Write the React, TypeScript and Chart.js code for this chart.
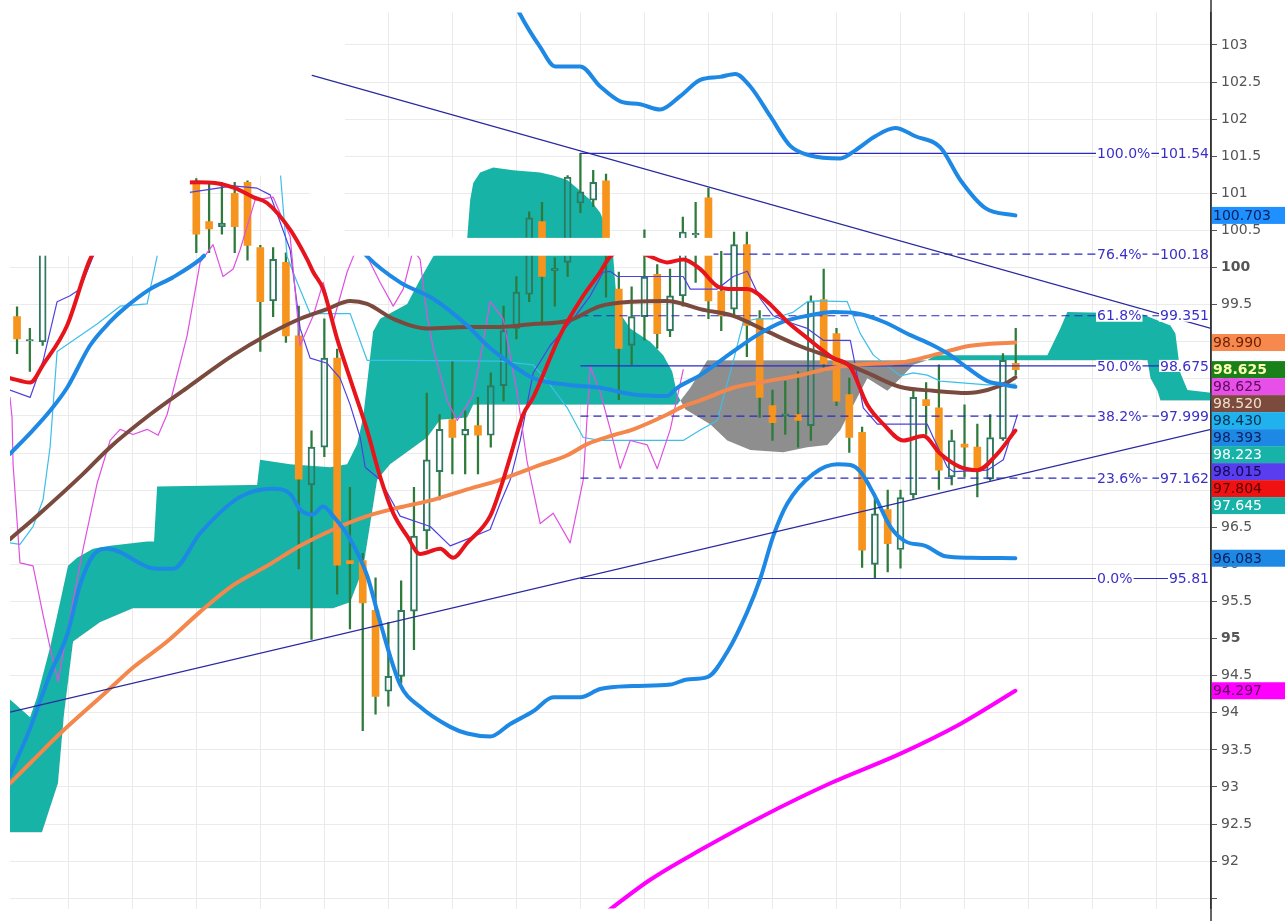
import React, { useEffect, useRef } from "react";
import { Chart, registerables } from "chart.js";

Chart.register(...registerables);

// ---------- candles (bar index 0..78) ----------
const candleOpen = [
  99.34, 99.01, 99.0, 100.2, 100.9, 101.3, 101.1, 101.5, 101.2, 101.4,
  101.0, 101.3, 101.1, 101.25, 101.15, 100.62, 100.55, 101.0, 101.15, 100.27,
  99.55, 100.07, 99.08, 97.07, 97.58, 98.78, 96.05, 96.05, 95.38, 94.29,
  94.49, 95.37, 96.45, 97.25, 97.95, 97.74, 97.87, 97.74, 98.41, 99.18,
  99.64, 100.62, 99.96, 100.07, 100.87, 100.91, 101.17, 99.71, 98.95, 99.34,
  99.91, 99.15, 99.62, 100.44, 100.94, 99.68, 99.44, 100.31, 99.31, 98.14,
  98.0, 98.02, 97.87, 99.57, 99.11, 98.29, 97.78, 96.0, 96.74, 96.2,
  96.94, 98.22, 98.11, 97.18, 97.62, 97.58, 97.15, 97.69, 98.71,
];
const candleHigh = [
  99.47, 99.18, 100.6, 101.1, 101.5, 101.6, 101.7, 101.7, 101.6, 101.5,
  101.5, 101.45, 101.4, 101.35, 101.2, 101.15, 101.15, 101.15, 101.17, 100.3,
  100.27, 100.2, 99.48, 97.8, 99.31, 98.9, 97.04, 96.15, 95.82, 95.22,
  95.78, 97.04, 98.31, 98.02, 98.74, 98.07, 98.25, 98.58, 99.48, 99.88,
  100.75, 100.88, 100.13, 101.24, 101.54, 101.31, 101.26, 99.94, 99.74, 100.51,
  100.04, 99.98, 100.68, 100.88, 101.07, 100.22, 100.48, 100.48, 99.42, 98.35,
  98.47, 98.6, 99.62, 99.98, 99.18, 98.51, 97.85, 96.95, 97.0, 97.0,
  98.34, 98.45, 98.69, 97.81, 98.15, 97.89, 98.02, 98.84, 99.18,
];
const candleLow = [
  98.84, 98.6, 98.95, 100.2, 100.7, 100.9, 100.95, 101.0, 100.9, 100.8,
  100.8, 100.9, 100.9, 100.85, 100.2, 100.2, 100.45, 100.2, 100.1, 98.87,
  99.34, 98.99, 95.94, 94.99, 97.45, 95.6, 95.13, 93.76, 93.98, 94.09,
  94.4, 94.85, 96.21, 96.87, 97.22, 97.22, 97.22, 97.58, 98.2, 99.04,
  99.54, 99.24, 99.48, 99.88, 100.74, 100.82, 99.6, 98.22, 98.69, 99.02,
  98.91, 99.07, 99.48, 99.8, 99.31, 99.15, 99.35, 98.8, 97.98, 97.67,
  97.75, 97.58, 97.67, 98.6, 98.14, 97.51, 95.96, 95.81, 95.9, 95.95,
  96.89, 97.75, 97.01, 97.07, 97.18, 96.91, 97.13, 97.67, 98.55,
];
const candleClose = [
  99.04, 99.03, 100.3, 100.9, 101.3, 101.1, 101.5, 101.2, 101.4, 101.0,
  101.3, 101.1, 101.25, 101.15, 100.45, 100.52, 100.6, 100.55, 100.3, 99.54,
  100.11, 99.08, 97.15, 97.58, 98.78, 95.99, 96.01, 95.48, 94.22, 94.49,
  95.38, 96.38, 97.41, 97.82, 97.71, 97.82, 97.74, 98.41, 99.15, 99.67,
  100.67, 99.88, 99.99, 101.22, 101.02, 101.15, 100.4, 98.91, 99.34, 99.87,
  99.11, 99.62, 100.48, 100.46, 99.55, 99.35, 100.31, 99.22, 98.25, 97.91,
  98.03, 97.94, 99.55, 98.7, 98.2, 97.71, 96.19, 96.68, 96.28, 96.9,
  98.25, 98.14, 97.27, 97.67, 97.58, 97.27, 97.71, 98.75, 98.625,
];

// ---------- indicator lines: [bar index, value]; null = not visible ----------
type Pt = [number, number | null];
const bbUpper: Pt[] = [
  [38.5, 103.71], [39.3, 103.41], [40.86, 102.97], [42.03, 102.71], [43.98, 102.71],
  [45.55, 102.44], [47.11, 102.24], [48.67, 102.2], [50.23, 102.13], [51.8, 102.31],
  [53.36, 102.53], [54.92, 102.57], [56.09, 102.61], [57.27, 102.44], [58.83, 102.04],
  [60.39, 101.64], [61.95, 101.51], [64.3, 101.47], [65.47, 101.58], [67.03, 101.77],
  [68.59, 101.88], [70.16, 101.77], [72.11, 101.62], [73.67, 101.18], [75.63, 100.8],
  [77.97, 100.703],
];
const bbMiddle: Pt[] = [
  [-0.55, 97.49], [1.25, 97.81], [2.58, 98.07], [3.91, 98.38], [5.7, 98.95],
  [7.27, 99.27], [8.59, 99.48], [10.39, 99.71], [12.19, 99.87], [14.3, 100.11],
  [14.6, 100.16], [20.0, null],
  [27.1, 100.2], [27.34, 100.15], [29.92, 99.8], [32.5, 99.58], [35.16, 99.22], [36.72, 98.95],
  [38.28, 98.74], [40.31, 98.51], [42.97, 98.42], [45.55, 98.38], [48.13, 98.29],
  [50.78, 98.27], [51.56, 98.38], [53.36, 98.55], [55.94, 98.87], [57.81, 99.09],
  [59.84, 99.27], [61.72, 99.35], [63.75, 99.4], [65.63, 99.38], [67.66, 99.27],
  [69.77, 99.09], [71.56, 98.95], [72.89, 98.82], [74.22, 98.65], [75.78, 98.47],
  [76.8, 98.43], [77.97, 98.393],
];
const bbLower: Pt[] = [
  [-0.55, 93.16], [1.02, 93.79], [2.58, 94.52], [3.91, 95.05], [4.92, 95.72],
  [5.94, 96.12], [7.03, 96.21], [10.94, 95.94], [12.19, 95.94], [14.3, 96.42],
  [17.42, 96.91], [20.0, 97.02], [21.33, 96.95], [22.11, 96.74], [23.05, 96.67],
  [23.91, 96.78], [24.69, 96.65], [26.02, 96.34], [27.34, 95.85], [28.36, 95.22],
  [29.92, 94.38], [31.48, 94.08], [33.83, 93.81], [35.16, 93.72], [36.95, 93.68],
  [38.52, 93.85], [40.31, 94.02], [41.88, 94.21], [43.98, 94.21], [45.55, 94.32],
  [48.13, 94.36], [51.02, 94.38], [52.34, 94.45], [53.91, 94.48], [55.47, 94.82],
  [57.03, 95.36], [58.05, 95.81], [59.06, 96.38], [60.16, 96.82], [62.19, 97.22],
  [64.06, 97.35], [65.08, 97.34], [65.86, 97.25], [67.03, 96.91], [68.2, 96.51],
  [69.38, 96.31], [70.94, 96.25], [72.5, 96.11], [74.45, 96.09], [77.97, 96.083],
];
const emaRed: Pt[] = [
  [-0.55, 98.51], [1.02, 98.45], [2.03, 98.69], [3.91, 99.22], [5.7, 100.11],
  [8.83, 100.91], [11.17, 101.11], [14.06, 101.15], [15.47, 101.14], [17.03, 101.07],
  [18.44, 100.95], [19.53, 100.87], [21.33, 100.51], [22.66, 100.11], [23.13, 99.94],
  [23.91, 99.71], [25.0, 99.04], [26.25, 98.38], [27.34, 97.81], [28.36, 97.18],
  [29.38, 96.69], [30.47, 96.38], [31.48, 96.14], [33.05, 96.21], [34.06, 96.09],
  [35.16, 96.29], [36.95, 96.65], [37.73, 97.01], [38.52, 97.45], [39.53, 98.02],
  [40.31, 98.25], [42.42, 99.09], [44.22, 99.62], [45.55, 99.94], [46.33, 100.15],
  [47.9, 100.25], [49.45, 100.15], [50.78, 100.07], [52.03, 100.11], [53.36, 99.98],
  [54.69, 99.75], [55.94, 99.71], [57.03, 99.71], [58.59, 99.54], [60.16, 99.27],
  [61.72, 99.05], [63.75, 98.78], [65.08, 98.66], [66.41, 98.15], [67.66, 97.89],
  [69.22, 97.67], [70.78, 97.73], [72.11, 97.49], [73.67, 97.31], [75.0, 97.27],
  [76.56, 97.49], [77.97, 97.804],
];
const maBrown: Pt[] = [
  [-0.55, 96.34], [1.8, 96.69], [5.16, 97.22], [7.27, 97.58], [10.39, 98.02],
  [13.28, 98.38], [16.88, 98.82], [19.53, 99.09], [22.11, 99.31], [24.22, 99.44],
  [26.02, 99.55], [27.34, 99.51], [29.38, 99.31], [32.03, 99.18], [35.16, 99.2],
  [37.73, 99.2], [40.31, 99.24], [42.97, 99.28], [45.55, 99.48], [48.13, 99.54],
  [50.78, 99.55], [52.03, 99.51], [53.36, 99.44], [55.94, 99.35], [58.59, 99.14],
  [61.17, 98.94], [63.75, 98.78], [66.41, 98.58], [69.0, 98.39], [71.56, 98.34],
  [74.22, 98.31], [75.78, 98.35], [77.34, 98.45], [77.97, 98.52],
];
const maOrange: Pt[] = [
  [-0.55, 93.05], [1.25, 93.36], [3.36, 93.72], [7.03, 94.29], [9.06, 94.61],
  [11.72, 94.96], [14.3, 95.36], [16.88, 95.72], [19.53, 95.98], [22.11, 96.25],
  [24.69, 96.47], [27.34, 96.65], [29.92, 96.77], [32.5, 96.87], [35.16, 97.01],
  [37.73, 97.14], [40.86, 97.34], [42.97, 97.47], [44.53, 97.62], [46.56, 97.74],
  [48.13, 97.82], [50.78, 98.02], [52.03, 98.13], [53.36, 98.21], [55.94, 98.38],
  [58.59, 98.47], [61.17, 98.55], [63.75, 98.65], [66.41, 98.7], [69.0, 98.72],
  [71.56, 98.82], [74.22, 98.94], [75.78, 98.97], [77.97, 98.99],
];
const maMagenta: Pt[] = [
  [45.55, 91.25], [49.45, 91.75], [53.36, 92.15], [58.05, 92.59], [63.52, 93.05],
  [69.0, 93.45], [73.67, 93.85], [77.97, 94.297],
];
const tenkan: Pt[] = [
  [-0.55, 98.35], [1.02, 98.25], [2.03, 98.74], [3.13, 99.54], [4.14, 99.62],
  [4.92, 99.71], [6.48, 100.38], [9.0, 100.9], [16.88, 101.1], [18.75, 101.07],
  [19.77, 100.98], [21.33, 100.24], [22.11, 99.18], [22.89, 98.78], [24.22, 98.71],
  [25.23, 98.51], [26.02, 98.15], [26.8, 97.71], [27.19, 97.31], [28.36, 97.14],
  [29.38, 96.82], [29.92, 96.65], [32.27, 96.51], [33.83, 96.25], [35.16, 96.34],
  [36.95, 96.47], [37.73, 96.82], [38.52, 97.14], [39.3, 97.67], [40.31, 98.58],
  [41.64, 98.95], [43.44, 99.31], [44.77, 99.62], [45.78, 99.94], [46.33, 99.95],
  [46.88, 99.88], [48.67, 99.88], [52.03, 99.88], [52.58, 99.71], [54.69, 99.71],
  [55.94, 99.88], [57.03, 99.95], [58.05, 99.58], [59.06, 99.35], [60.16, 99.27],
  [61.72, 99.18], [62.97, 99.02], [65.08, 99.02], [65.31, 98.82], [66.09, 98.11],
  [67.19, 97.89], [71.09, 97.89], [71.56, 97.71], [72.66, 97.31], [73.13, 97.25],
  [75.78, 97.27], [77.03, 97.41], [77.58, 97.71], [78.13, 98.015],
];
const kijun: Pt[] = [
  [-0.55, 96.29], [0.23, 96.27], [1.25, 96.51], [2.03, 96.87], [2.58, 97.58],
  [3.13, 98.87], [6.25, 99.24], [8.05, 99.48], [10.16, 99.51], [10.94, 100.15],
  [11.17, 101.31], [20.55, 101.31], [21.09, 100.15], [21.88, 99.8], [22.89, 99.38],
  [26.02, 99.38], [27.34, 98.75], [29.92, 98.75], [37.73, 98.74], [40.31, 98.69],
  [41.41, 98.47], [42.97, 98.11], [44.22, 97.71], [45.55, 97.67], [52.03, 97.67],
  [53.36, 97.81], [54.69, 97.94], [55.94, 98.74], [56.72, 99.27], [57.81, 99.31],
  [59.06, 99.31], [60.63, 99.4], [61.72, 99.54], [62.5, 99.55], [64.84, 99.54],
  [65.86, 99.11], [66.88, 98.82], [69.0, 98.54], [70.0, 98.58], [71.09, 98.55],
  [72.11, 98.47], [75.78, 98.42], [77.97, 98.43],
];
const chikou: Pt[] = [
  [-0.55, 98.25], [-0.39, 97.98], [-0.31, 97.35], [0.23, 96.02], [1.25, 95.98],
  [2.03, 95.32], [2.58, 94.88], [3.2, 94.42], [3.91, 95.09], [5.16, 96.21],
  [6.25, 97.09], [7.27, 97.67], [8.05, 97.82], [9.06, 97.75], [10.16, 97.82],
  [11.02, 97.74], [11.72, 98.02], [13.28, 99.08], [14.3, 100.07], [15.31, 100.31],
  [16.09, 99.88], [16.88, 99.98], [17.42, 100.24], [18.59, 100.91], [20.0, 100.95],
  [21.33, 100.42], [22.11, 98.95], [23.13, 99.35], [23.91, 99.8], [24.69, 99.27],
  [25.78, 99.94], [26.8, 100.38], [27.34, 100.15], [28.36, 99.8], [29.38, 99.48],
  [30.16, 99.71], [30.94, 100.24], [31.48, 100.11], [32.03, 99.35], [32.5, 98.91],
  [33.59, 98.21], [34.38, 97.94], [35.16, 98.15], [35.63, 98.29], [36.41, 99.0],
  [36.95, 99.54], [37.97, 99.31], [39.06, 98.31], [39.84, 97.38], [40.86, 96.55],
  [41.88, 96.69], [43.2, 96.29], [44.22, 97.14], [44.77, 98.67], [45.55, 98.32],
  [46.33, 97.82], [47.11, 97.29], [47.89, 97.67], [49.22, 97.61], [50.0, 97.29],
  [51.02, 97.82], [51.56, 98.25], [52.03, 98.625],
];
const senkouA: Pt[] = [
  [-0.55, 94.18], [1.02, 93.94], [1.56, 94.21], [2.58, 94.88], [3.36, 95.49],
  [3.98, 95.98], [4.69, 96.09], [5.94, 96.21], [7.27, 96.25], [10.16, 96.31],
  [10.7, 96.31], [10.94, 97.05], [18.2, 97.07], [18.75, 97.07], [18.98, 97.41],
  [21.33, 97.35], [24.45, 97.31], [25.78, 97.35], [26.56, 97.62], [27.03, 97.98],
  [27.81, 99.14], [28.36, 99.31], [30.47, 99.51], [31.48, 99.84], [32.5, 100.15],
  [33.83, 100.31], [35.16, 100.4], [35.39, 100.91], [35.63, 101.14], [36.17, 101.28],
  [37.19, 101.35], [38.75, 101.31], [40.86, 101.28], [41.88, 101.24], [42.97, 101.18],
  [43.75, 101.07], [44.77, 100.91], [45.55, 100.74], [46.09, 100.51], [46.56, 100.15],
  [46.88, 99.44], [47.89, 99.18], [49.45, 99.0], [50.47, 98.82], [51.17, 98.6],
  [51.56, 98.29], [52.19, 98.09], [54.14, 97.89], [55.47, 97.67], [57.27, 97.54],
  [59.84, 97.51], [61.72, 97.58], [63.28, 97.61], [64.3, 97.81], [65.08, 98.07],
  [66.41, 98.51], [67.97, 98.34], [69.0, 98.51], [70.0, 98.69], [71.09, 98.75],
  [71.72, 98.82], [80.47, 98.82], [81.48, 99.18], [82.03, 99.4], [87.73, 99.38],
  [90.08, 99.22], [90.47, 99.11], [90.86, 98.58], [91.41, 98.35], [93.36, 98.31],
];
const senkouB: Pt[] = [
  [-0.55, 92.39], [1.95, 92.39], [3.2, 93.05], [3.67, 93.98], [4.38, 94.96],
  [6.48, 95.22], [9.06, 95.41], [24.69, 95.41], [26.02, 95.49], [27.03, 95.94],
  [28.13, 97.14], [29.14, 97.35], [32.03, 97.71], [33.05, 97.95], [35.16, 97.98],
  [35.63, 98.15], [51.56, 98.15], [52.58, 98.38], [53.91, 98.75], [88.28, 98.75],
  [88.52, 98.51], [89.06, 98.34], [89.3, 98.21], [93.36, 98.21],
];
const trendUpper: Pt[] = [[23.05, 102.59], [93.25, 99.18]];
const trendLower: Pt[] = [[-0.55, 94.01], [93.25, 97.82]];

// ---------- Fibonacci ----------
const fibStartIndex = 44;
const fibValues = [101.54, 100.18, 99.351, 98.675, 97.999, 97.162, 95.81];
const fibPercents = ["100.0%", "76.4%", "61.8%", "50.0%", "38.2%", "23.6%", "0.0%"];
const fibValueLabels = ["101.54", "100.18", "99.351", "98.675", "97.999", "97.162", "95.81"];

// ---------- right side value tags ----------
const tagValues = [100.703, 98.99, 98.625, 98.625, 98.52, 98.43, 98.393, 98.223, 98.015, 97.804, 97.645, 96.083, 94.297];
const tagLabels = ["100.703", "98.990", "98.625", "98.625", "98.520", "98.430", "98.393", "98.223", "98.015", "97.804", "97.645", "96.083", "94.297"];

// ---------- axes ----------
const yTickValues = [91.5, 92, 92.5, 93, 93.5, 94, 94.5, 95, 95.5, 96, 96.5, 97, 97.5, 98, 98.5, 99, 99.5, 100, 100.5, 101, 101.5, 102, 102.5, 103];
const xGridIndices = [4, 9, 14, 19, 24, 29, 34, 39, 44, 49, 54, 59, 64, 69, 74, 79, 84, 89];
const X_MIN = -0.55;
const X_MAX = 93.25;
const Y_MIN = 91.361;
const Y_MAX = 103.439;

// erased (white) areas of the source picture, in data units [x0, x1, yLow, yHigh]
const whiteAreas: [number, number, number, number][] = [
  [-1, 13.5, 100.16, 104],
  [13.5, 25.6, 101.24, 104],
  [22.9, 25.6, 100.16, 104],
  [25.6, 54.4, 100.16, 100.4],
];

// ---------- styles ----------
const FONT = '"DejaVu Sans", Verdana, sans-serif';
const TEAL = "#17b3a7";
const GRAY = "#8e8e8e";
const ORANGE_CANDLE = "#f7941d";
const HOLLOW = "#2f7a5f";
const WICK = "#2e7a3a";
const FIB_COLOR = "#2a2ac4";
const FIB_TEXT = "#3a30c8";
const tagBg = ["#1e90ff", "#f7894e", "#1a801a", "#e84ee8", "#7d4b3e", "#1fb2ee", "#1e88e5", "#18b3a8", "#5b3df0", "#f01212", "#18b3a8", "#1e88e5", "#ff00ff"];
const tagFg = ["#0b2160", "#6b1f00", "#ffffb0", "#5a0a5a", "#f0e0d0", "#0a2f4f", "#0b2160", "#ffffff", "#120a50", "#5a0000", "#ffffff", "#0b2160", "#5a005a"];

const pts = (arr: Pt[]) => arr.map(([x, y]) => ({ x, y }));

function lineDs(label: string, arr: Pt[], color: string, width: number, order: number, smooth: boolean, extra: any = {}) {
  return {
    type: "line",
    label,
    data: pts(arr),
    borderColor: color,
    borderWidth: width,
    pointRadius: 0,
    fill: false,
    order,
    spanGaps: false,
    cubicInterpolationMode: smooth ? "monotone" : "default",
    tension: 0,
    borderCapStyle: "round",
    borderJoinStyle: "round",
    ...extra,
  };
}

function drawWhiteAreas(chart: any) {
  const { ctx, chartArea, scales } = chart;
  const xs = scales.x;
  const ys = scales.y;
  ctx.save();
  ctx.beginPath();
  ctx.rect(chartArea.left, chartArea.top, chartArea.right - chartArea.left, chartArea.bottom - chartArea.top);
  ctx.clip();
  ctx.fillStyle = "#ffffff";
  whiteAreas.forEach(([x0, x1, y0, y1]) => {
    const px0 = xs.getPixelForValue(x0);
    const px1 = xs.getPixelForValue(x1);
    const py0 = ys.getPixelForValue(y1);
    const py1 = ys.getPixelForValue(y0);
    ctx.fillRect(px0, py0, px1 - px0, py1 - py0);
  });
  ctx.restore();
}

const overlayPlugin = {
  id: "overlays",
  beforeDatasetDraw(chart: any, args: any) {
    if (args.meta && args.meta.label === "Trend upper") drawWhiteAreas(chart);
  },
  afterDatasetsDraw(chart: any) {
    const { ctx, chartArea, scales } = chart;
    const ys = scales.y;
    ctx.save();
    ctx.font = `14px ${FONT}`;
    ctx.textBaseline = "middle";
    fibValues.forEach((v, i) => {
      const y = ys.getPixelForValue(v);
      const pctX = chartArea.right - 114;
      const pw = ctx.measureText(fibPercents[i]).width;
      const vw = ctx.measureText(fibValueLabels[i]).width;
      const vx = chartArea.right - 2 - vw;
      ctx.fillStyle = "#ffffff";
      ctx.fillRect(pctX - 1, y - 6, pw + 2, 12);
      ctx.fillRect(vx - 1, y - 6, vw + 2, 12);
      ctx.fillStyle = FIB_TEXT;
      ctx.textAlign = "left";
      ctx.fillText(fibPercents[i], pctX, y + 1);
      ctx.fillText(fibValueLabels[i], vx, y + 1);
    });
    ctx.restore();
  },
  afterDraw(chart: any) {
    const { ctx, chartArea, scales, width, height } = chart;
    const ys = scales.y;
    // axis line over the full height of the picture
    ctx.save();
    ctx.strokeStyle = "#333";
    ctx.lineWidth = 1.5;
    ctx.beginPath();
    ctx.moveTo(chartArea.right, 0);
    ctx.lineTo(chartArea.right, height);
    ctx.stroke();
    ctx.restore();

    const h = 17;
    let prevBottom = -Infinity;
    ctx.save();
    ctx.textBaseline = "middle";
    ctx.textAlign = "left";
    tagValues.forEach((v, i) => {
      let cy = ys.getPixelForValue(v);
      if (cy - h / 2 < prevBottom) cy = prevBottom + h / 2;
      prevBottom = cy + h / 2;
      ctx.fillStyle = tagBg[i];
      ctx.fillRect(chartArea.right + 1, cy - h / 2, width - chartArea.right - 1, h);
      ctx.fillStyle = tagFg[i];
      ctx.font = `${i === 2 ? "bold " : ""}14px ${FONT}`;
      ctx.fillText(tagLabels[i], chartArea.right + 2, cy + 1);
    });
    ctx.restore();
  },
};

export default function App() {
  const canvasRef = useRef<HTMLCanvasElement>(null);

  useEffect(() => {
    document.body.style.margin = "0";
    const canvas = canvasRef.current;
    if (!canvas) return;

    const idx = candleOpen.map((_, i) => i);
    const bull = (i: number) => candleClose[i] >= candleOpen[i];

    const datasets: any[] = [
      {
        type: "line",
        label: "Senkou A",
        data: pts(senkouA),
        borderWidth: 0,
        borderColor: "rgba(0,0,0,0)",
        pointRadius: 0,
        tension: 0,
        fill: { target: 1, above: TEAL, below: GRAY },
        order: 100,
      },
      {
        type: "line",
        label: "Senkou B",
        data: pts(senkouB),
        borderWidth: 0,
        borderColor: "rgba(0,0,0,0)",
        pointRadius: 0,
        tension: 0,
        fill: false,
        order: 101,
      },
      {
        type: "bar",
        label: "upper wick",
        data: idx.map((i) => ({ x: i, y: [Math.max(candleOpen[i], candleClose[i]), candleHigh[i]] })),
        backgroundColor: WICK,
        borderWidth: 0,
        barThickness: 1.6,
        grouped: false,
        order: 91,
      },
      {
        type: "bar",
        label: "lower wick",
        data: idx.map((i) => ({ x: i, y: [candleLow[i], Math.min(candleOpen[i], candleClose[i])] })),
        backgroundColor: WICK,
        borderWidth: 0,
        barThickness: 1.6,
        grouped: false,
        order: 90,
      },
      {
        type: "bar",
        label: "body",
        data: idx.map((i) => ({ x: i, y: [candleOpen[i], candleClose[i]] })),
        backgroundColor: idx.map((i) => (bull(i) ? "rgba(0,0,0,0)" : ORANGE_CANDLE)),
        borderColor: idx.map((i) => (bull(i) ? HOLLOW : ORANGE_CANDLE)),
        borderWidth: idx.map((i) => (bull(i) ? 1.3 : 0)),
        borderSkipped: false,
        barThickness: 7,
        grouped: false,
        order: 89,
      },
      lineDs("Kijun", kijun, "#3cbfe8", 1.2, 80, false),
      lineDs("Tenkan", tenkan, "#5040e0", 1.2, 79, false),
      lineDs("Chikou", chikou, "#e050e0", 1.2, 78, false),
      ...fibValues.map((v, i) =>
        lineDs("fib" + i, [[fibStartIndex, v], [X_MAX, v]], FIB_COLOR, 1.2, 70, false, {
          borderDash: i === 0 || i === 3 || i === 6 ? [] : [8, 5],
          borderCapStyle: "butt",
        })
      ),
      lineDs("MA orange", maOrange, "#f4874b", 4, 60, true),
      lineDs("MA brown", maBrown, "#7b4a3e", 4, 59, true),
      lineDs("BB upper", bbUpper, "#1e88e5", 4, 58, true),
      lineDs("BB middle", bbMiddle, "#1e88e5", 4, 58, true),
      lineDs("BB lower", bbLower, "#1e88e5", 4, 58, true),
      lineDs("EMA red", emaRed, "#e8141c", 4, 50, true),
      lineDs("MA magenta", maMagenta, "#ff00ff", 4, 49, true),
      lineDs("Trend upper", trendUpper, "#2a2aa0", 1.2, 2, false),
      lineDs("Trend lower", trendLower, "#2a2aa0", 1.2, 1, false),
    ];

    const chart = new Chart(canvas, {
      type: "line",
      data: { datasets },
      options: {
        animation: false,
        responsive: false,
        events: [],
        layout: { padding: { left: 10, top: 10, right: 0, bottom: 4 } },
        plugins: { legend: { display: false }, tooltip: { enabled: false } },
        scales: {
          x: {
            type: "linear",
            min: X_MIN,
            max: X_MAX,
            offset: false,
            grid: { color: "#ebebeb", drawTicks: false, offset: false },
            border: { display: false },
            ticks: { display: false },
            afterBuildTicks: (s: any) => {
              s.ticks = xGridIndices.map((v) => ({ value: v }));
            },
            afterFit: (s: any) => {
              s.height = 0;
            },
          },
          y: {
            type: "linear",
            position: "right",
            min: Y_MIN,
            max: Y_MAX,
            beginAtZero: false,
            grid: { color: "#ebebeb", tickLength: 6, tickColor: "#555" },
            border: { color: "#333", width: 1.5 },
            ticks: {
              padding: 4,
              color: "#555",
              font: (c: any) => ({
                family: FONT,
                size: 14,
                weight: c.tick && c.tick.value % 5 === 0 ? "bold" : "normal",
              }),
              callback: (v: any) => (v < 92 ? "" : String(v)),
            },
            afterBuildTicks: (s: any) => {
              s.ticks = yTickValues.map((v) => ({ value: v }));
            },
            afterFit: (s: any) => {
              s.width = 74;
            },
          },
        },
      } as any,
      plugins: [overlayPlugin],
    } as any);

    return () => chart.destroy();
  }, []);

  return (
    <div style={{ width: 1285, height: 921, background: "#ffffff" }}>
      <canvas ref={canvasRef} width={1285} height={921} style={{ display: "block" }} />
    </div>
  );
}
